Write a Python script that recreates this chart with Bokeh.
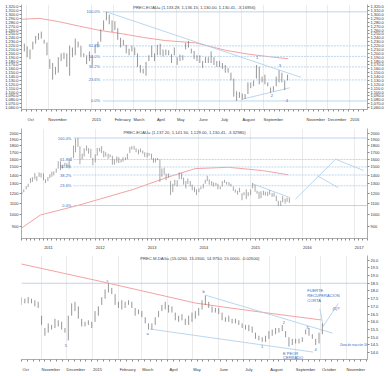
import pandas as pd
from bokeh.plotting import figure
from bokeh.layouts import column
from bokeh.models import (Range1d, FixedTicker, LinearAxis, LogAxis, Label,
                          NumeralTickFormatter, PrintfTickFormatter)
from bokeh.embed import file_html
from bokeh.resources import INLINE

# ---------------- data : panel 1 (gold, daily, every 4 days) ----------------
gold_d_start = "2014-09-24"
gold_d_low = [1215, 1205, 1190, 1185, 1210, 1225, 1235, 1238, 1225, 1195,
              1160, 1132, 1145, 1150, 1180, 1185, 1165, 1142, 1190, 1195,
              1215, 1190, 1190, 1172, 1180, 1170, 1200, 1215, 1230, 1260,
              1285, 1275, 1255, 1260, 1235, 1215, 1220, 1200, 1195, 1205,
              1195, 1165, 1150, 1148, 1142, 1180, 1190, 1180, 1195, 1195,
              1192, 1195, 1195, 1175, 1195, 1170, 1180, 1182, 1210, 1215,
              1200, 1185, 1180, 1175, 1162, 1175, 1175, 1175, 1170, 1165,
              1165, 1160, 1150, 1150, 1130, 1088, 1077, 1085, 1080, 1082,
              1095, 1110, 1115, 1135, 1120, 1125, 1120, 1115, 1098, 1102,
              1115, 1125, 1125, 1105, 1130]
gold_d_high = [1236, 1225, 1218, 1210, 1230, 1245, 1252, 1256, 1235, 1228,
               1185, 1175, 1165, 1190, 1200, 1202, 1200, 1220, 1215, 1238,
               1230, 1220, 1200, 1195, 1205, 1195, 1220, 1230, 1262, 1285,
               1307, 1300, 1285, 1283, 1265, 1240, 1235, 1222, 1212, 1220,
               1215, 1200, 1170, 1160, 1178, 1195, 1220, 1200, 1222, 1225,
               1210, 1210, 1208, 1198, 1215, 1190, 1197, 1195, 1227, 1232,
               1212, 1206, 1195, 1195, 1180, 1190, 1190, 1205, 1190, 1180,
               1180, 1175, 1170, 1162, 1150, 1135, 1102, 1100, 1096, 1095,
               1125, 1125, 1130, 1170, 1165, 1140, 1145, 1125, 1112, 1115,
               1140, 1156, 1150, 1130, 1145]
ma1_dates = ["2014-09-24", "2014-10-20", "2014-11-15", "2014-12-15", "2015-01-13",
             "2015-02-15", "2015-03-15", "2015-04-15", "2015-05-28", "2015-07-09",
             "2015-08-10", "2015-09-10", "2015-10-06"]
ma1_vals = [1288, 1290, 1282, 1270, 1259, 1250, 1241, 1233, 1227, 1208, 1198, 1191, 1186]
fib1_high, fib1_low = 1307, 1077
trend1_dates = ["2015-01-22", "2015-10-24"]
trend1_vals = [1307, 1138]
support1_dates = ["2015-08-03", "2015-10-08"]
support1_vals = [1082, 1111]
wave1_text = ["1", "2", "3", "4"]
wave1_dates = ["2015-08-23", "2015-09-13", "2015-09-24", "2015-10-04"]
wave1_vals = [1188, 1092, 1169, 1077]
title1 = "PREC.EOAU= (1,133.28, 1,136.15, 1,130.00, 1,130.41, -3.16956)"
p1_tick_vals = list(range(1060, 1330, 10))
p1_month_dates = ["2014-10-01", "2014-11-01", "2015-01-01", "2015-02-01", "2015-03-01",
                  "2015-04-01", "2015-05-01", "2015-06-01", "2015-07-01", "2015-08-01",
                  "2015-09-01", "2015-11-01", "2015-12-01", "2016-01-01"]
p1_month_labels = ["Oct", "November", "2015", "February", "March", "April", "May",
                   "June", "July", "August", "September", "November", "December", "2016"]

# ---------------- data : panel 2 (gold, weekly, semi-monthly points) ----------------
gold_w_start = "2010-08-01"
gold_w_low = [1190, 1210, 1240, 1265, 1310, 1320, 1350, 1330, 1380, 1370,
              1340, 1308, 1330, 1365, 1380, 1395, 1430, 1480, 1460, 1480,
              1510, 1495, 1480, 1580, 1620, 1700, 1780, 1535, 1600, 1640,
              1720, 1680, 1620, 1522, 1560, 1650, 1710, 1690, 1630, 1640,
              1610, 1630, 1530, 1530, 1560, 1550, 1560, 1570, 1590, 1600,
              1690, 1740, 1740, 1700, 1670, 1700, 1680, 1635, 1625, 1650,
              1600, 1555, 1560, 1590, 1320, 1380, 1410, 1340, 1370, 1180,
              1210, 1280, 1270, 1350, 1350, 1290, 1250, 1300, 1270, 1230,
              1210, 1180, 1210, 1240, 1250, 1300, 1330, 1290, 1280, 1270,
              1280, 1240, 1240, 1270, 1310, 1290, 1280, 1270, 1225, 1205,
              1185, 1210, 1130, 1180, 1140, 1170, 1180, 1250, 1215, 1195,
              1142, 1150, 1180, 1175, 1170, 1185, 1162, 1165, 1120, 1077,
              1077, 1110, 1098, 1115, 1105]
gold_w_high = [1215, 1240, 1275, 1300, 1365, 1375, 1424, 1385, 1432, 1425,
               1420, 1350, 1375, 1412, 1440, 1445, 1480, 1575, 1575, 1530,
               1555, 1550, 1600, 1630, 1800, 1912, 1921, 1790, 1680, 1760,
               1800, 1760, 1750, 1620, 1670, 1765, 1765, 1790, 1720, 1700,
               1680, 1670, 1650, 1600, 1640, 1630, 1600, 1630, 1630, 1680,
               1780, 1790, 1796, 1760, 1740, 1755, 1725, 1700, 1695, 1690,
               1680, 1620, 1615, 1620, 1600, 1480, 1490, 1420, 1420, 1330,
               1300, 1345, 1340, 1433, 1425, 1370, 1330, 1360, 1330, 1290,
               1265, 1240, 1250, 1270, 1300, 1345, 1392, 1350, 1330, 1315,
               1310, 1300, 1270, 1330, 1345, 1320, 1320, 1300, 1270, 1240,
               1225, 1255, 1200, 1210, 1240, 1210, 1240, 1307, 1285, 1225,
               1215, 1220, 1225, 1215, 1215, 1232, 1200, 1205, 1175, 1125,
               1125, 1170, 1145, 1156, 1150]
ma2_dates = ["2010-07-30", "2010-12-10", "2011-08-29", "2012-09-27", "2013-05-22",
             "2013-12-05", "2014-07-27", "2015-03-25", "2015-09-24"]
ma2_vals = [891, 996, 1080, 1240, 1373, 1479, 1496, 1455, 1403]
fib2_high, fib2_low = 1920, 1080
proj2a_dates = ["2015-11-12", "2016-08-22", "2017-03-08"]
proj2a_vals = [1139, 1602, 1455]
proj2b_dates = ["2016-04-16", "2016-09-10"]
proj2b_vals = [1391, 1257]
trend2_dates = ["2015-01-12", "2015-10-08"]
trend2_vals = [1301, 1154]
title2 = "PREC.EOAU= (1,137.20, 1,141.50, 1,129.00, 1,130.41, -3.32980)"
p2_tick_vals = list(range(900, 2100, 100))
p2_year_dates = ["2011-01-01", "2012-01-01", "2013-01-01", "2014-01-01",
                 "2015-01-01", "2016-01-01", "2017-01-01"]
p2_year_labels = ["2011", "2012", "2013", "2014", "2015", "2016", "2017"]

# ---------------- data : panel 3 (silver, daily, every 4 days) ----------------
silver_start = "2014-10-08"
silver_low = [17.1, 17.2, 17.2, 17.2, 17.0, 16.9,
              15.8, 15.1, 15.3, 15.5, 15.6, 15.7, 15.5, 15.3,
              14.8, 16.4, 16.7, 16.2, 15.7, 15.7, 15.8, 15.6,
              16.0, 16.4, 17.1, 17.5, 17.9, 17.8, 17.1,
              16.9, 16.8, 16.9, 17.1, 16.9, 16.4, 16.5,
              16.3, 15.9, 15.5, 15.5, 15.8, 16.3, 16.7, 16.8,
              16.6, 16.6, 16.1, 16.0, 16.1, 15.8, 15.8, 16.0,
              16.2, 16.4, 16.8, 17.1, 16.9, 16.6, 16.6,
              16.5, 16.1, 16.0, 16.0, 15.9, 15.9, 15.8, 15.6,
              15.5, 15.4, 15.3, 14.9, 14.8, 14.7, 14.7, 14.9,
              15.1, 15.2, 15.3, 15.4, 15.0, 14.4, 14.5,
              14.6, 14.6, 14.7, 15.2, 15.1, 14.9, 14.5, 14.6,
              15.2]
silver_high = [17.6, 17.5, 17.6, 17.5, 17.4, 17.3,
               16.4, 15.6, 15.9, 15.8, 16.2, 16.1, 16.0, 15.6,
               16.4, 17.2, 17.3, 17.0, 16.2, 16.0, 16.1, 16.0,
               16.7, 17.0, 17.6, 18.1, 18.5, 18.2, 17.8,
               17.3, 17.4, 17.3, 17.4, 17.3, 16.9, 16.8,
               16.7, 16.3, 15.9, 15.9, 16.3, 16.7, 17.1, 17.3,
               17.1, 17.0, 16.6, 16.4, 16.5, 16.2, 16.4, 16.6,
               16.7, 16.9, 17.4, 17.7, 17.3, 17.0, 16.9,
               16.9, 16.6, 16.3, 16.4, 16.2, 16.2, 16.1, 15.9,
               15.8, 15.8, 15.7, 15.3, 15.1, 15.0, 15.1, 15.4,
               15.5, 15.6, 15.6, 15.8, 15.4, 15.0, 14.9,
               14.9, 14.9, 15.0, 15.5, 15.6, 15.2, 14.9, 15.3,
               15.9]
ma3_dates = ["2014-10-07", "2015-01-10", "2015-05-04", "2015-06-12", "2015-07-23", "2015-10-02"]
ma3_vals = [19.76, 18.63, 17.22, 16.92, 16.62, 16.12]
level3 = 18.5
trend3_dates = ["2015-05-16", "2015-10-15"]
trend3_vals = [17.73, 15.27]
channel3_dates = ["2015-03-11", "2015-09-22"]
channel3_vals = [15.53, 14.04]
proj3_dates = ["2015-09-30", "2015-10-04", "2015-10-22"]
proj3_vals = [16.85, 15.71, 17.2]
wave3_text = ["c", "5", "a", "b", "1", "2", "3", "4"]
wave3_dates = ["2015-01-19", "2014-11-30", "2015-03-08", "2015-05-14",
               "2015-07-23", "2015-08-18", "2015-09-15", "2015-09-25"]
wave3_vals = [18.7, 14.45, 15.23, 17.97, 14.39, 15.95, 15.65, 14.2]
note3_text = ["FUERTE", "RECUPERACION", "CORTA", "(5)?", "E PEOR", "CERRADO"]
note3_dates = ["2015-09-15", "2015-09-15", "2015-09-15", "2015-10-15", "2015-08-17", "2015-08-17"]
note3_vals = [18.0, 17.7, 17.4, 16.85, 13.96, 13.72]
zone3_text = "Zona de reacción 16"
zone3_date = "2015-10-24"
zone3_val = 14.5
title3 = "PREC.M.DAG= (15.0260, 15.0300, 14.9750, 15.0000, -0.02600)"
p3_tick_vals = [14.0, 14.5, 15.0, 15.5, 16.0, 16.5, 17.0, 17.5, 18.0, 18.5, 19.0, 19.5, 20.0]
p3_month_dates = ["2014-10-08", "2014-11-01", "2014-12-01", "2015-01-01", "2015-02-01",
                  "2015-03-01", "2015-04-01", "2015-05-01", "2015-06-01", "2015-07-01",
                  "2015-08-01", "2015-09-01", "2015-10-01", "2015-11-01"]
p3_month_labels = ["Oct", "November", "December", "2015", "February", "March", "April",
                   "May", "June", "July", "August", "September", "October", "November"]

# ---------------- styling ----------------
W = 390
FL, FR = 21, 23
FRAME_W = W - FL - FR
FONT = "Liberation Sans"
BAND_C = "#bcd3ea"
BAR_C = "#6b6b6b"
FIB_C = "#a9cbea"
MA_C = "#f2a3a3"
ANN_C = "#3a6cc0"
GRID_C = "#e6e6e6"
AX_C = "#8a8a8a"
TICK_FS = "4px"
CH_W = 2.0  # approx px per char at TICK_FS


def days(dates, epoch):
    e = pd.Timestamp(epoch)
    return [(pd.Timestamp(d) - e).days for d in dates]


def band(h):
    b = figure(width=W, height=h, toolbar_location=None, output_backend="svg",
               min_border=0, x_axis_location=None, y_axis_location=None,
               outline_line_color=None, background_fill_color=BAND_C,
               border_fill_color=BAND_C, x_range=Range1d(0, 1), y_range=Range1d(0, 1))
    b.grid.visible = False
    return b


def style_y(ax, ticks, fmt):
    ax.ticker = FixedTicker(ticks=ticks)
    ax.formatter = fmt
    ax.axis_line_color = AX_C
    ax.axis_line_width = 0.7
    ax.major_tick_line_color = AX_C
    ax.major_tick_out = 2
    ax.major_tick_in = 0
    ax.minor_tick_line_color = None
    ax.major_label_text_font = FONT
    ax.major_label_text_font_size = TICK_FS
    ax.major_label_text_color = "#333333"
    ax.major_label_standoff = 1


def make_panel(h, xr, yr, ylog, left_labels, ticks, fmt, month_x, month_lbls, minor_x):
    p = figure(width=W, height=h, x_range=xr, y_range=yr,
               y_axis_type="log" if ylog else "linear",
               toolbar_location=None, output_backend="svg",
               min_border_left=FL, min_border_right=FR, min_border_top=1, min_border_bottom=5,
               outline_line_color=None, background_fill_color="white", border_fill_color="white",
               y_axis_location="left" if left_labels else None)
    pxpu = FRAME_W / (xr.end - xr.start)
    centers = []
    overrides = {}
    for mx, lb in zip(month_x, month_lbls):
        c = int(round(mx + (len(lb) * CH_W / 2 + 1.0) / pxpu))
        centers.append(c)
        overrides[c] = lb
    xa = p.xaxis[0]
    xa.ticker = FixedTicker(ticks=centers, minor_ticks=minor_x)
    xa.major_label_overrides = overrides
    xa.major_tick_line_color = None
    xa.minor_tick_line_color = AX_C
    xa.minor_tick_out = 2
    xa.minor_tick_in = 0
    xa.axis_line_color = AX_C
    xa.axis_line_width = 0.7
    xa.major_label_standoff = 1
    xa.major_label_text_font = FONT
    xa.major_label_text_font_size = TICK_FS
    xa.major_label_text_color = "#333333"
    p.xgrid.ticker = FixedTicker(ticks=month_x)
    p.xgrid.grid_line_color = GRID_C
    p.xgrid.grid_line_width = 0.8
    p.ygrid.visible = False
    if left_labels:
        style_y(p.yaxis[0], ticks, fmt)
    if ylog:
        ra = LogAxis()
    else:
        ra = LinearAxis()
    style_y(ra, ticks, fmt)
    p.add_layout(ra, "right")
    return p


def add_text(p, xs, ys, texts, color=ANN_C, size="4px", align="center", baseline="middle"):
    for x, y, t in zip(xs, ys, texts):
        p.add_layout(Label(x=x, y=y, text=t, text_font=FONT, text_font_size=size,
                           text_color=color, text_align=align, text_baseline=baseline))


FIB_LEVELS = [1.0, 0.618, 0.5, 0.382, 0.236, 0.0]
FIB_NAMES = ["100.0%", "61.8%", "50.0%", "38.2%", "23.6%", "0.0%"]


def add_fib(p, hi, lo, x_label, x_start, x_end):
    for lv, nm in zip(FIB_LEVELS, FIB_NAMES):
        v = lo + lv * (hi - lo)
        dash = "solid" if lv in (0.0, 1.0) else "2 1"
        p.segment(x0=[x_start], y0=[v], x1=[x_end], y1=[v], line_color=FIB_C,
                  line_width=0.8, line_dash=dash)
        add_text(p, [x_label], [v], [nm], align="right")


# ---------------- panel 1 ----------------
E1 = "2015-01-01"
xr1 = Range1d(-99, 390)
p1 = make_panel(121, xr1, Range1d(1055, 1326), False, True, p1_tick_vals,
                NumeralTickFormatter(format="0,0.0"),
                days(p1_month_dates, E1), p1_month_labels, list(range(-99, 390, 7)))
g_dates = pd.date_range(gold_d_start, periods=len(gold_d_low), freq="4D")
gx = days(g_dates, E1)
p1.line(days(ma1_dates, E1), ma1_vals, line_color=MA_C, line_width=1)
add_fib(p1, fib1_high, fib1_low, days(["2015-01-13"], E1)[0], days(["2015-01-17"], E1)[0], xr1.end)
p1.line(days(trend1_dates, E1), trend1_vals, line_color=FIB_C, line_width=0.8)
p1.line(days(support1_dates, E1), support1_vals, line_color=FIB_C, line_width=0.8)
p1.segment(gx, gold_d_low, gx, gold_d_high, line_color=BAR_C, line_width=0.7)
add_text(p1, days(wave1_dates, E1), wave1_vals, wave1_text)
add_text(p1, [days(["2015-03-01"], E1)[0]], [1326], [title1], color="#444444",
         size="4.2px", align="left", baseline="top")

# ---------------- panel 2 ----------------
E2 = "2010-01-01"
xr2 = Range1d(210, 2650)
yr2 = Range1d(815.5, 2082)
month2 = pd.date_range("2010-08-01", "2017-04-01", freq="MS")
p2 = make_panel(124, xr2, yr2, True, True, p2_tick_vals,
                NumeralTickFormatter(format="0"),
                days(p2_year_dates, E2), p2_year_labels, days(month2, E2))
w_dates = pd.date_range(gold_w_start, periods=len(gold_w_low), freq="SMS")
wx = days(w_dates, E2)
p2.line(days(ma2_dates, E2), ma2_vals, line_color=MA_C, line_width=1)
add_fib(p2, fib2_high, fib2_low, days(["2011-07-17"], E2)[0], days(["2011-08-01"], E2)[0], xr2.end)
p2.line(days(proj2a_dates, E2), proj2a_vals, line_color=FIB_C, line_width=0.8)
p2.line(days(proj2b_dates, E2), proj2b_vals, line_color=FIB_C, line_width=0.8)
p2.line(days(trend2_dates, E2), trend2_vals, line_color=FIB_C, line_width=0.8)
p2.segment(wx, gold_w_low, wx, gold_w_high, line_color=BAR_C, line_width=0.6)
add_text(p2, [days(["2012-07-18"], E2)[0]], [2060], [title2], color="#444444",
         size="4.2px", align="left", baseline="top")

# ---------------- panel 3 ----------------
E3 = "2015-01-01"
xr3 = Range1d(-85, 329)
p3 = make_panel(120, xr3, Range1d(13.56, 20.3), False, False, p3_tick_vals,
                PrintfTickFormatter(format="%.1f"),
                days(p3_month_dates, E3), p3_month_labels, list(range(-85, 329, 7)))
s_dates = pd.date_range(silver_start, periods=len(silver_low), freq="4D")
sx = days(s_dates, E3)
p3.segment(x0=[xr3.start], y0=[level3], x1=[xr3.end], y1=[level3], line_color=FIB_C, line_width=0.8)
p3.line(days(ma3_dates, E3), ma3_vals, line_color=MA_C, line_width=1)
p3.line(days(trend3_dates, E3), trend3_vals, line_color=FIB_C, line_width=0.8)
p3.line(days(channel3_dates, E3), channel3_vals, line_color=FIB_C, line_width=0.8)
p3.line(days(proj3_dates, E3), proj3_vals, line_color=FIB_C, line_width=0.8)
p3.segment(sx, silver_low, sx, silver_high, line_color=BAR_C, line_width=0.7)
add_text(p3, days(wave3_dates, E3), wave3_vals, wave3_text)
add_text(p3, days(note3_dates, E3), note3_vals, note3_text, align="left")
add_text(p3, days([zone3_date], E3), [zone3_val], [zone3_text], size="3px", align="left")
add_text(p3, [days(["2015-02-27"], E3)[0]], [20.3], [title3], color="#444444",
         size="4.2px", align="left", baseline="top")

layout = column(band(3), p1, band(3), p2, band(3), p3, band(2))
open("out.html", "w").write(file_html(layout, INLINE))
